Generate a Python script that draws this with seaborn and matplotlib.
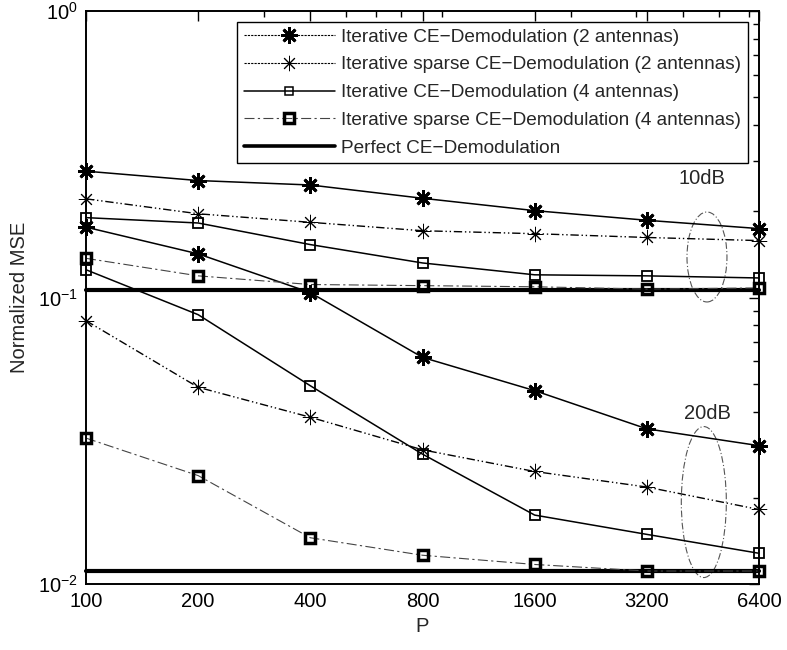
import matplotlib
matplotlib.use("Agg")
import matplotlib.pyplot as plt
import seaborn as sns
import numpy as np
import pandas as pd
from matplotlib.lines import Line2D
from matplotlib.patches import Ellipse
from matplotlib.ticker import FixedLocator, NullFormatter, LogLocator, FixedFormatter

# ---------------- data ----------------
P = [100, 200, 400, 800, 1600, 3200, 6400]
xtick_labels = ["100", "200", "400", "800", "1600", "3200", "6400"]

# 10 dB
iter_2ant_10 = [0.276, 0.256, 0.247, 0.222, 0.201, 0.186, 0.174]
sparse_2ant_10 = [0.221, 0.196, 0.183, 0.171, 0.167, 0.162, 0.158]
iter_4ant_10 = [0.190, 0.182, 0.153, 0.132, 0.120, 0.119, 0.117]
sparse_4ant_10 = [0.137, 0.119, 0.111, 0.110, 0.109, 0.107, 0.108]
perfect_10 = [0.106] * 7

# 20 dB
iter_2ant_20 = [0.176, 0.142, 0.104, 0.0618, 0.0473, 0.0348, 0.0304]
sparse_2ant_20 = [0.083, 0.0486, 0.0382, 0.0294, 0.0247, 0.0218, 0.0182]
iter_4ant_20 = [0.125, 0.0871, 0.0492, 0.0284, 0.0174, 0.0149, 0.0128]
sparse_4ant_20 = [0.0323, 0.0239, 0.0145, 0.0126, 0.0117, 0.0111, 0.0111]
perfect_20 = [0.0111] * 7

legend_labels = [
    "Iterative CE\u2212Demodulation (2 antennas)",
    "Iterative sparse CE\u2212Demodulation (2 antennas)",
    "Iterative CE\u2212Demodulation (4 antennas)",
    "Iterative sparse CE\u2212Demodulation (4 antennas)",
    "Perfect CE\u2212Demodulation",
]

# ---------------- style ----------------
sns.set_theme(style="white")
plt.rcParams["font.family"] = ["Liberation Sans", "DejaVu Sans"]
plt.rcParams["mathtext.fontset"] = "custom"
plt.rcParams["mathtext.rm"] = "Liberation Sans"
plt.rcParams["mathtext.it"] = "Liberation Sans:italic"

fig = plt.figure(figsize=(7.87, 6.5), dpi=100)
ax = fig.add_axes([86 / 787, 1 - 584 / 650, 673 / 787, 573 / 650])

ASTER = (8, 2, 0)
styles = {
    "A": dict(color="black", linestyle="-", linewidth=1.1, marker=ASTER,
              markersize=12, markeredgewidth=2.0, markeredgecolor="black"),
    "B": dict(color="black", linestyle=(0, (6, 2, 1, 2, 1, 2)), linewidth=1.0,
              marker=ASTER, markersize=11, markeredgewidth=0.7, markeredgecolor="black"),
    "C": dict(color="black", linestyle="-", linewidth=1.1, marker="s",
              markersize=7.5, markeredgewidth=1.3, markerfacecolor="none",
              markeredgecolor="black"),
    "D": dict(color="#444444", linestyle=(0, (9, 3, 2, 3)), linewidth=0.8, marker="s",
              markersize=7.5, markeredgewidth=2.5, markerfacecolor="none",
              markeredgecolor="black"),
    "E": dict(color="black", linestyle="-", linewidth=3.0),
}

series = [
    ("E", perfect_10), ("E", perfect_20),
    ("A", iter_2ant_10), ("A", iter_2ant_20),
    ("B", sparse_2ant_10), ("B", sparse_2ant_20),
    ("C", iter_4ant_10), ("C", iter_4ant_20),
    ("D", sparse_4ant_10), ("D", sparse_4ant_20),
]
for key, vals in series:
    df = pd.DataFrame({"P": P, "MSE": vals})
    sns.lineplot(data=df, x="P", y="MSE", ax=ax, legend=False, clip_on=False,
                 **styles[key])

ax.set_xscale("log")
ax.set_yscale("log")
ax.set_xlim(100, 6400)
ax.set_ylim(1e-2, 1e0)
ax.xaxis.set_major_locator(FixedLocator(P))
ax.xaxis.set_major_formatter(FixedFormatter(xtick_labels))
ax.xaxis.set_minor_locator(LogLocator(base=10, subs=np.arange(2, 10)))
ax.xaxis.set_minor_formatter(NullFormatter())
ax.yaxis.set_minor_locator(LogLocator(base=10, subs=np.arange(2, 10)))
ax.yaxis.set_minor_formatter(NullFormatter())

ax.tick_params(which="both", direction="in", top=True, right=True, colors="black",
               width=1.0)
ax.tick_params(which="major", length=7, labelsize=14.5, pad=6)
ax.tick_params(which="minor", length=4)
for s in ax.spines.values():
    s.set_color("black")
    s.set_linewidth(1.4)

ax.set_xlabel("P", fontsize=14.5, labelpad=4)
ax.set_ylabel("Normalized MSE", fontsize=14.5, labelpad=6)
ax.grid(False)

# ellipses and SNR annotations
for (cx, cy, w, h) in [(0.9227, 0.5707, 0.0594, 0.157), (0.918, 0.143, 0.0669, 0.2635)]:
    ax.add_patch(Ellipse((cx, cy), w, h, transform=ax.transAxes, fill=False,
                         edgecolor="#555555", linewidth=0.8,
                         linestyle=(0, (6, 2, 1, 2))))
ax.text(0.915, 0.707, "10dB", transform=ax.transAxes, ha="center", va="center",
        fontsize=14.5)
ax.text(0.924, 0.297, "20dB", transform=ax.transAxes, ha="center", va="center",
        fontsize=14.5)

# legend
handles = [
    Line2D([], [], color="black", linestyle=(0, (2, 1)), linewidth=0.8, marker=ASTER,
           markersize=12, markeredgewidth=2.0, markeredgecolor="black"),
    Line2D([], [], color="black", linestyle=(0, (2, 1)), linewidth=0.8, marker=ASTER,
           markersize=11, markeredgewidth=0.7, markeredgecolor="black"),
    Line2D([], [], color="black", linestyle="-", linewidth=1.1, marker="s",
           markersize=6, markeredgewidth=1.1, markerfacecolor="none",
           markeredgecolor="black"),
    Line2D([], [], color="#444444", linestyle=(0, (9, 3, 2, 3)), linewidth=0.8, marker="s",
           markersize=7, markeredgewidth=2.5, markerfacecolor="none",
           markeredgecolor="black"),
    Line2D([], [], color="black", linestyle="-", linewidth=2.6),
]
leg = ax.legend(handles, legend_labels, loc="upper right",
                bbox_to_anchor=(0.9837, 0.981), borderaxespad=0, fontsize=13.65,
                frameon=True, fancybox=False, handlelength=4.8, handletextpad=0.35,
                labelspacing=0.55, borderpad=0.35)
leg.get_frame().set_edgecolor("black")
leg.get_frame().set_linewidth(1.0)
leg.get_frame().set_alpha(1)

fig.savefig("out.png", dpi=100)
